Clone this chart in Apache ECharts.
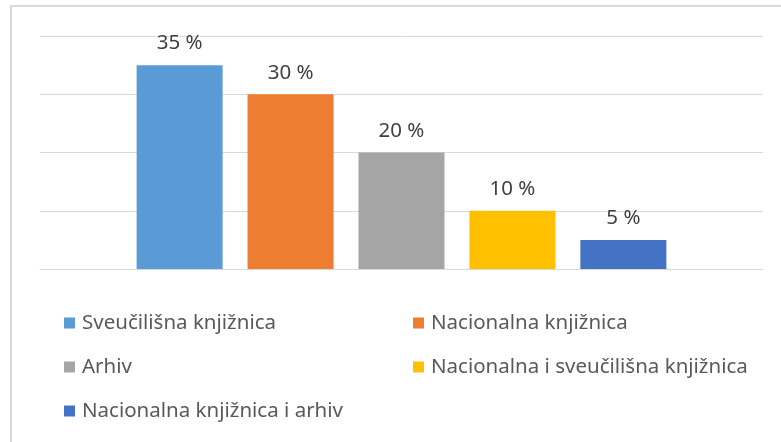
<!DOCTYPE html>
<html>
<head>
<meta charset="utf-8">
<script src="https://cdn.jsdelivr.net/npm/echarts@6/dist/echarts.min.js"></script>
<style>
  html, body { margin: 0; padding: 0; background: #fff; }
  #chart { width: 781px; height: 442px; }
</style>
</head>
<body>
<div id="chart"></div>
<script>
// data
const seriesNames = [
  'Sveučilišna knjižnica',
  'Nacionalna knjižnica',
  'Arhiv',
  'Nacionalna i sveučilišna knjižnica',
  'Nacionalna knjižnica i arhiv'
];
const seriesValues = [35, 30, 20, 10, 5];
const colors = ['#5B9BD5', '#ED7D31', '#A5A5A5', '#FFC000', '#4472C4'];
const leftColumn = [seriesNames[0], seriesNames[2], seriesNames[4]];
const rightColumn = [seriesNames[1], seriesNames[3]];

const font = '"Noto Sans", sans-serif';

const chart = echarts.init(document.getElementById('chart'));

const legendBase = {
  orient: 'vertical',
  icon: 'rect',
  padding: 0,
  itemWidth: 11,
  itemHeight: 11,
  itemGap: 20,
  top: 311,
  textStyle: { fontFamily: font, fontSize: 20.5, color: '#595959', lineHeight: 24, padding: [0, 0, 0, 2] }
};

const option = {
  animation: false,
  color: colors,
  graphic: [{
    type: 'rect',
    shape: { x: 11, y: 6, width: 820, height: 480 },
    style: { fill: 'none', stroke: '#d9d9d9', lineWidth: 2 },
    silent: true
  }],
  grid: { left: 40, right: 18, top: 36, bottom: 173 },
  legend: [
    Object.assign({}, legendBase, { left: 64, data: leftColumn }),
    Object.assign({}, legendBase, { left: 413, data: rightColumn })
  ],
  xAxis: {
    type: 'category',
    data: [''],
    axisLine: { lineStyle: { color: '#d9d9d9', width: 1 } },
    axisTick: { show: false },
    axisLabel: { show: false }
  },
  yAxis: {
    type: 'value',
    min: 0,
    max: 40,
    interval: 10,
    axisLabel: { show: false },
    axisLine: { show: false },
    axisTick: { show: false },
    splitLine: { lineStyle: { color: '#d9d9d9', width: 1 } }
  },
  series: seriesNames.map((name, i) => ({
    name: name,
    type: 'bar',
    barWidth: 86,
    barGap: '29%',
    data: [seriesValues[i]],
    label: {
      show: true,
      position: 'top',
      distance: 11,
      formatter: '{c} %',
      fontFamily: font,
      fontSize: 20.5,
      color: '#404040'
    }
  }))
};

chart.setOption(option);
</script>
</body>
</html>
